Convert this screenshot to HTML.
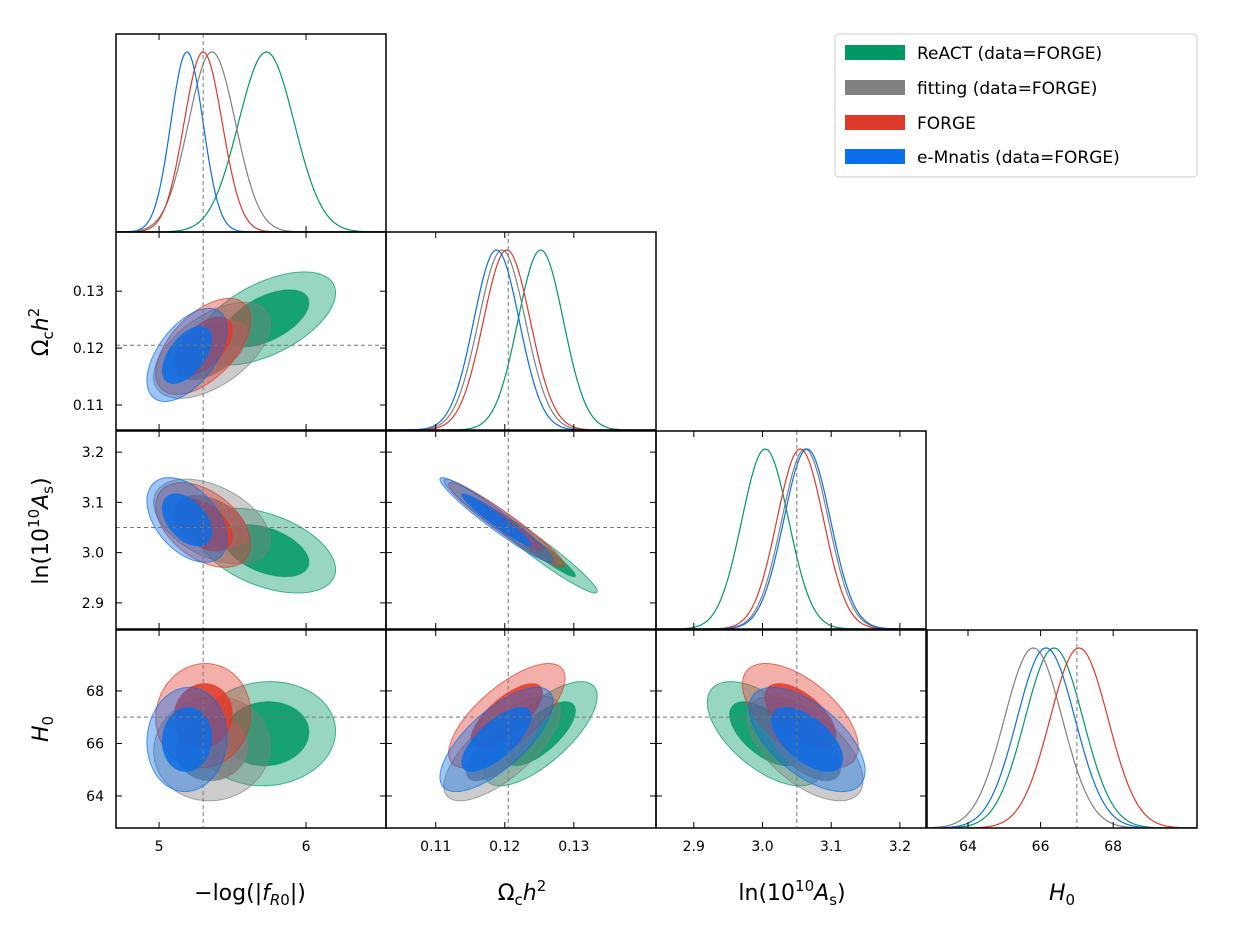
<!DOCTYPE html>
<html><head><meta charset="utf-8"><style>
body{margin:0;background:#fff;}
svg text{font-family:"DejaVu Sans","Liberation Sans",sans-serif;fill:#000;}
</style></head><body>
<svg id="fig" width="1250" height="926" viewBox="0 0 1250 926" xmlns="http://www.w3.org/2000/svg"></svg>
<script>
const params = ['fR0','Oc','lnAs','H0'];
const seriesNames = ['ReACT (data=FORGE)','fitting (data=FORGE)','FORGE','e-Mnatis (data=FORGE)'];
const seriesColors = ['#009966','#808080','#e0392a','#0a6fe8'];
const meanFR0 = [5.73, 5.36, 5.30, 5.19];
const meanOc = [0.1252, 0.1196, 0.1203, 0.1188];
const meanLnAs = [3.004, 3.062, 3.055, 3.065];
const meanH0 = [66.37, 65.80, 67.06, 66.15];
const sigFR0 = [0.19, 0.16, 0.13, 0.11];
const sigOc = [0.0033, 0.0034, 0.0034, 0.0033];
const sigLnAs = [0.034, 0.034, 0.034, 0.034];
const sigH0 = [0.8, 0.8, 0.8, 0.8];
// correlations: [fR0-Oc, fR0-ln, Oc-ln, fR0-H0, Oc-H0, ln-H0]
const corrPairs = [[0,1],[0,2],[1,2],[0,3],[1,3],[2,3]];
const corrValues = [0.55, -0.45, -0.96, 0.05, 0.72, -0.6];
const truthValues = [5.30, 0.1205, 3.05, 67.0];
const ticksFR0 = [5, 6];
const ticksOc = [0.11, 0.12, 0.13];
const ticksLnAs = [2.9, 3.0, 3.1, 3.2];
const ticksH0 = [64, 66, 68];

const means=[meanFR0,meanOc,meanLnAs,meanH0], sigs=[sigFR0,sigOc,sigLnAs,sigH0];
const ticks=[ticksFR0,ticksOc,ticksLnAs,ticksH0];
const fmt=[v=>String(v),v=>v.toFixed(2),v=>v.toFixed(1),v=>String(v)];
const colL=[116,386,656,927], PW=270;
const rowT=[34,232,431,630], PH=198;
const xr=[[4.707,6.544],[0.1028,0.1419],[2.845,3.238],[62.87,70.31]];
const yr=[null,[0.1056,0.1404],[2.848,3.242],[62.78,70.32]];
const NS='http://www.w3.org/2000/svg';
const svg=document.getElementById('fig');
function el(t,a,p){const e=document.createElementNS(NS,t);for(const k in a)e.setAttribute(k,a[k]);(p||svg).appendChild(e);return e;}
function X(c,v){return colL[c]+(v-xr[c][0])/(xr[c][1]-xr[c][0])*PW;}
function Y(r,v){return rowT[r]+PH-(v-yr[r][0])/(yr[r][1]-yr[r][0])*PH;}
const defs=el('defs',{});
function corr(i,j){for(let k=0;k<corrPairs.length;k++){const p=corrPairs[k];if((p[0]===i&&p[1]===j)||(p[0]===j&&p[1]===i))return corrValues[k];}return 0;}

for(let r=0;r<4;r++){for(let c=0;c<=r;c++){
  const g=el('g',{});
  
  
  const cp=el('clipPath',{id:'cp'+r+c},defs);
  el('rect',{x:colL[c],y:rowT[r],width:PW,height:PH},cp);
  const inner=el('g',{'clip-path':'url(#cp'+r+c+')'},g);
  if(r===c){
    for(let s=0;s<4;s++){
      let d='';
      for(let k=0;k<=300;k++){const v=xr[c][0]+(xr[c][1]-xr[c][0])*k/300;const z=(v-means[c][s])/sigs[c][s];
        d+=(k?'L':'M')+X(c,v).toFixed(1)+','+(rowT[r]+PH-180*Math.exp(-0.5*z*z)).toFixed(1);}
      const p=el('path',{d:d,fill:'none',stroke:seriesColors[s],'stroke-width':1.2},inner);
      
      
    }
  } else {
    const rho=corr(c,r);
    for(let s=0;s<4;s++){
      [[2.48,0.4],[1.52,0.85]].forEach(([rad,op],li)=>{
        let d='';
        for(let k=0;k<=120;k++){const t=2*Math.PI*k/120;
          const vx=means[c][s]+sigs[c][s]*rad*Math.cos(t);
          const vy=means[r][s]+sigs[r][s]*rad*(rho*Math.cos(t)+Math.sqrt(1-rho*rho)*Math.sin(t));
          d+=(k?'L':'M')+X(c,vx).toFixed(1)+','+Y(r,vy).toFixed(1);}
        const p=el('path',{d:d+'Z',fill:seriesColors[s],'fill-opacity':op,stroke:seriesColors[s],'stroke-opacity':0.7,'stroke-width':1},inner);
        
        
      });
    }
    el('line',{x1:colL[c],x2:colL[c]+PW,y1:Y(r,truthValues[r]),y2:Y(r,truthValues[r]),stroke:'#777','stroke-dasharray':'4,3','stroke-width':1},inner);
  }
  el('line',{x1:X(c,truthValues[c]),x2:X(c,truthValues[c]),y1:rowT[r],y2:rowT[r]+PH,stroke:'#777','stroke-dasharray':'4,3','stroke-width':1},inner);
  ticks[c].forEach(v=>{const x=X(c,v);
    el('line',{x1:x,x2:x,y1:rowT[r]+PH,y2:rowT[r]+PH-6,stroke:'#000'},g);
    el('line',{x1:x,x2:x,y1:rowT[r],y2:rowT[r]+6,stroke:'#000'},g);});
  if(r!==c) ticks[r].forEach(v=>{const y=Y(r,v);
    el('line',{x1:colL[c],x2:colL[c]+6,y1:y,y2:y,stroke:'#000'},g);
    el('line',{x1:colL[c]+PW,x2:colL[c]+PW-6,y1:y,y2:y,stroke:'#000'},g);});
  el('rect',{x:colL[c],y:rowT[r],width:PW,height:PH,fill:'none',stroke:'#000','stroke-width':1.5},g);
}}
for(let c=0;c<4;c++) ticks[c].forEach(v=>{const t=el('text',{x:X(c,v),y:851,'font-size':14,'text-anchor':'middle'});t.textContent=fmt[c](v);
  
  });
for(let r=1;r<4;r++) ticks[r].forEach(v=>{const t=el('text',{x:104,y:Y(r,v)+5,'font-size':14,'text-anchor':'end'});t.textContent=fmt[r](v);
  
  });
</script>
<svg style="position:absolute;left:0;top:0" width="1250" height="926">
<g font-family="DejaVu Sans, Liberation Sans, sans-serif" font-size="22" fill="#000">
<text x="250" y="900" text-anchor="middle">−log(|<tspan font-style="italic">f</tspan><tspan font-size="15" dy="5" font-style="italic">R</tspan><tspan font-size="15">0</tspan><tspan dy="-5">|)</tspan></text>
<text x="522" y="900" text-anchor="middle">Ω<tspan font-size="15" dy="5">c</tspan><tspan dy="-5" font-style="italic">h</tspan><tspan font-size="15" dy="-9">2</tspan></text>
<text x="792" y="900" text-anchor="middle">ln(10<tspan font-size="15" dy="-9">10</tspan><tspan dy="9" font-style="italic">A</tspan><tspan font-size="15" dy="5">s</tspan><tspan dy="-5">)</tspan></text>
<text x="1062" y="900" text-anchor="middle"><tspan font-style="italic">H</tspan><tspan font-size="15" dy="5">0</tspan></text>
<text transform="translate(48,332) rotate(-90)" text-anchor="middle">Ω<tspan font-size="15" dy="5">c</tspan><tspan dy="-5" font-style="italic">h</tspan><tspan font-size="15" dy="-9">2</tspan></text>
<text transform="translate(48,531) rotate(-90)" text-anchor="middle">ln(10<tspan font-size="15" dy="-9">10</tspan><tspan dy="9" font-style="italic">A</tspan><tspan font-size="15" dy="5">s</tspan><tspan dy="-5">)</tspan></text>
<text transform="translate(48,729) rotate(-90)" text-anchor="middle"><tspan font-style="italic">H</tspan><tspan font-size="15" dy="5">0</tspan></text>
</g>
<g font-family="DejaVu Sans, Liberation Sans, sans-serif" font-size="17" fill="#000">
<rect x="835" y="34" width="362" height="143" rx="4" fill="#fff" stroke="#ccc"/>
<rect x="845" y="45" width="60" height="15" fill="#009966"/>
<text x="917" y="59">ReACT (data=FORGE)</text>
<rect x="845" y="80" width="60" height="15" fill="#808080"/>
<text x="917" y="94">fitting (data=FORGE)</text>
<rect x="845" y="115" width="60" height="15" fill="#e0392a"/>
<text x="917" y="129">FORGE</text>
<rect x="845" y="149" width="60" height="15" fill="#0a6fe8"/>
<text x="917" y="163">e-Mnatis (data=FORGE)</text>
</g>
</svg>
</body></html>
